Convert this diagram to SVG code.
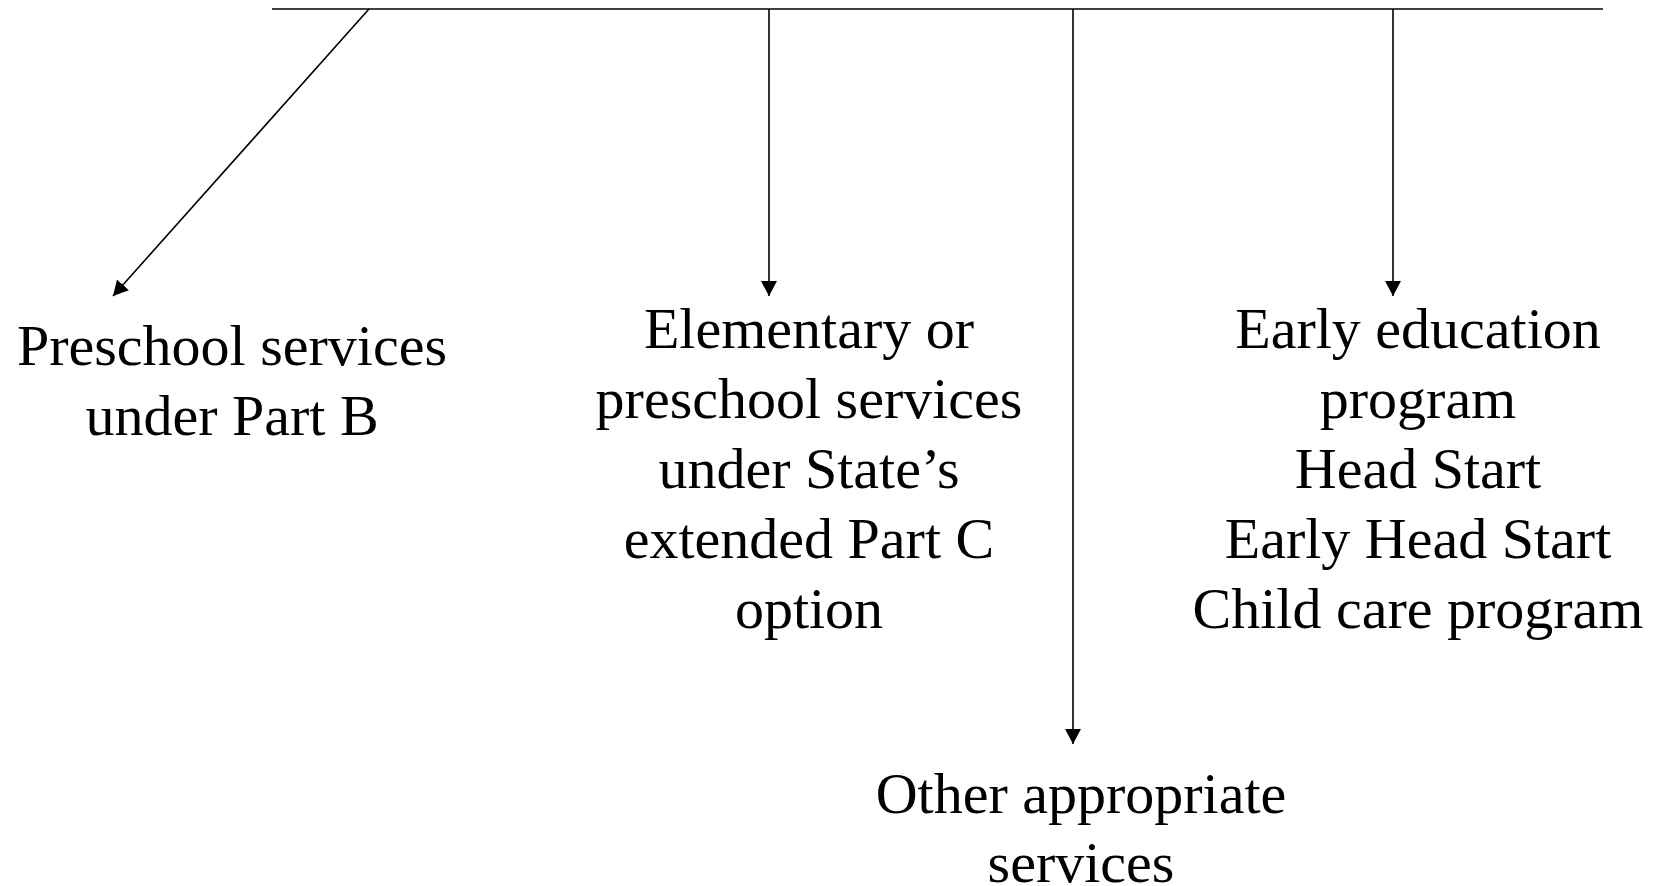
<svg xmlns="http://www.w3.org/2000/svg" width="1655" height="886" viewBox="0 0 1655 886">
  <style>
    .lbl { font-family: "Liberation Serif", "Times New Roman", serif; font-size: 58px; fill: #000; text-anchor: middle; }
    .conn { stroke: #000; stroke-width: 1.6; fill: none; }
  </style>
  <defs>
    <marker id="arrow" markerUnits="userSpaceOnUse" markerWidth="16" markerHeight="16" viewBox="0 0 16 16" refX="15" refY="8" orient="auto">
      <path d="M0,0 L15,8 L0,16 Z" fill="#000"/>
    </marker>
  </defs>
  <rect width="1655" height="886" fill="#fff"/>
  <g id="connectors">
    <line class="conn" x1="272" y1="9" x2="1603" y2="9" stroke-width="2"/>
    <line class="conn" x1="369" y1="9" x2="113" y2="296" marker-end="url(#arrow)"/>
    <line class="conn" x1="769" y1="9" x2="769" y2="296" marker-end="url(#arrow)"/>
    <line class="conn" x1="1073" y1="9" x2="1073" y2="744" marker-end="url(#arrow)"/>
    <line class="conn" x1="1393" y1="9" x2="1393" y2="296" marker-end="url(#arrow)"/>
  </g>
  <g id="node-partb">
    <text class="lbl" x="232" y="365">Preschool services</text>
    <text class="lbl" x="232" y="435">under Part B</text>
  </g>
  <g id="node-partc">
    <text class="lbl" x="809" y="348">Elementary or</text>
    <text class="lbl" x="809" y="418">preschool services</text>
    <text class="lbl" x="809" y="488">under State’s</text>
    <text class="lbl" x="809" y="558">extended Part C</text>
    <text class="lbl" x="809" y="628">option</text>
  </g>
  <g id="node-other">
    <text class="lbl" x="1081" y="813">Other appropriate</text>
    <text class="lbl" x="1081" y="882">services</text>
  </g>
  <g id="node-early">
    <text class="lbl" x="1418" y="348">Early education</text>
    <text class="lbl" x="1418" y="418">program</text>
    <text class="lbl" x="1418" y="488">Head Start</text>
    <text class="lbl" x="1418" y="558">Early Head Start</text>
    <text class="lbl" x="1418" y="628">Child care program</text>
  </g>
</svg>
